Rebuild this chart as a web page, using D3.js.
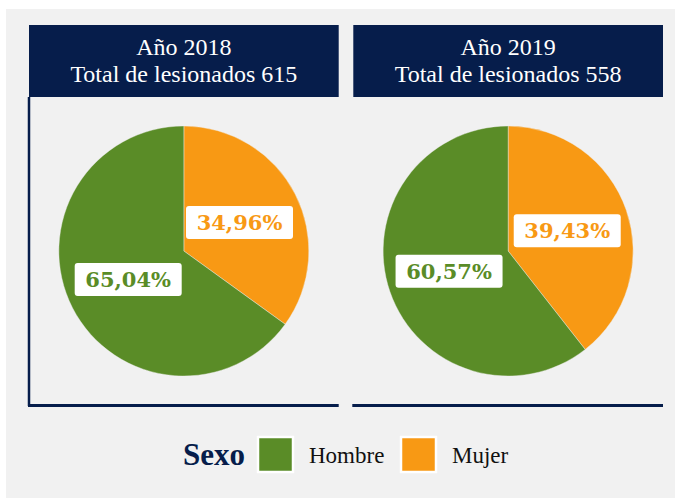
<!DOCTYPE html>
<html>
<head>
<meta charset="utf-8">
<script src="https://cdn.jsdelivr.net/npm/d3@7"></script>
<style>
  body { margin: 0; background: #fff; }
</style>
</head>
<body>
<svg id="chart" width="675" height="499"></svg>
<script>
var years = ['2018', '2019'];
var totals = [615, 558];
var categories = ['Hombre', 'Mujer'];
var hombre = [65.04, 60.57];
var mujer = [34.96, 39.43];

var colors = d3.scaleOrdinal()
  .domain(categories)
  .range(['#5a8c27', '#f89914']);

var navy = '#061d4b';

var es = d3.formatLocale({ decimal: ',', thousands: '.', grouping: [3], currency: ['', ' €'] });
var pct = es.format('.2f');

var svg = d3.select('#chart');

svg.append('rect')
  .attr('x', 6)
  .attr('y', 9)
  .attr('width', 669)
  .attr('height', 489)
  .attr('fill', '#f1f1f1');

var panelX = d3.scaleBand()
  .domain(years)
  .range([29, 663])
  .paddingInner(0.045);

var pie = d3.pie()
  .sort(null)
  .value(function(d) { return d.value; });

var radius = 125;
var arc = d3.arc().innerRadius(0).outerRadius(radius);

years.forEach(function(year, i) {
  var x0 = panelX(year);
  var w = panelX.bandwidth();
  var g = svg.append('g').attr('class', 'panel');

  // title box
  g.append('rect')
    .attr('x', x0)
    .attr('y', 25)
    .attr('width', w)
    .attr('height', 72)
    .attr('fill', navy);

  var title = g.append('text')
    .attr('text-anchor', 'middle')
    .attr('fill', '#fff')
    .style('font-family', '"Liberation Serif", serif')
    .style('font-size', '24px');
  title.append('tspan').attr('x', x0 + w / 2).attr('y', 55).text('Año ' + year);
  title.append('tspan').attr('x', x0 + w / 2).attr('y', 82).text('Total de lesionados ' + totals[i]);

  // frame lines
  if (i === 0) {
    g.append('line')
      .attr('x1', x0).attr('x2', x0)
      .attr('y1', 97).attr('y2', 406)
      .attr('stroke', navy)
      .attr('stroke-width', 2.5);
  }
  g.append('line')
    .attr('x1', x0 - 1).attr('x2', x0 + w)
    .attr('y1', 405.5).attr('y2', 405.5)
    .attr('stroke', navy)
    .attr('stroke-width', 3);

  // pie: Mujer first so it starts at 12 o'clock going clockwise
  var data = [
    { key: 'Mujer', value: mujer[i] },
    { key: 'Hombre', value: hombre[i] }
  ];
  var cx = x0 + w / 2;
  var pg = g.append('g').attr('transform', 'translate(' + cx + ',251)');

  var slices = pie(data);

  pg.selectAll('path')
    .data(slices)
    .enter()
    .append('path')
      .attr('d', arc)
      .attr('fill', function(d) { return colors(d.data.key); })
      .attr('stroke', '#f1f1f1')
      .attr('stroke-width', 0.4);

  var labels = pg.selectAll('g.lbl')
    .data(slices)
    .enter()
    .append('g')
      .attr('class', 'lbl')
      .attr('transform', function(d) {
        var c = arc.centroid(d);
        return 'translate(' + c[0] + ',' + c[1] + ')';
      });

  labels.append('rect')
    .attr('x', -53.5)
    .attr('y', -16.5)
    .attr('width', 107)
    .attr('height', 33)
    .attr('rx', 3)
    .attr('fill', '#fff');

  labels.append('text')
    .attr('text-anchor', 'middle')
    .attr('dy', 7.5)
    .attr('fill', function(d) { return colors(d.data.key); })
    .style('font-family', '"DejaVu Serif", serif')
    .style('font-weight', 'bold')
    .style('font-size', '21px')
    .text(function(d) { return pct(d.data.value) + '%'; });
});

// legend
var legend = svg.append('g').attr('class', 'legend');

legend.append('text')
  .attr('x', 183)
  .attr('y', 465)
  .attr('fill', navy)
  .style('font-family', '"Liberation Serif", serif')
  .style('font-weight', 'bold')
  .style('font-size', '31px')
  .text('Sexo');

var legendX = d3.scaleOrdinal()
  .domain(categories)
  .range([258, 401]);

var items = legend.selectAll('g.item')
  .data(categories)
  .enter()
  .append('g')
    .attr('class', 'item')
    .attr('transform', function(d) { return 'translate(' + legendX(d) + ',437)'; });

items.append('rect')
  .attr('width', 35)
  .attr('height', 35)
  .attr('fill', function(d) { return colors(d); })
  .attr('stroke', '#fff')
  .attr('stroke-width', 2.5);

items.append('text')
  .attr('x', 51)
  .attr('y', 26)
  .attr('fill', '#111')
  .style('font-family', '"Liberation Serif", serif')
  .style('font-size', '23px')
  .text(function(d) { return d; });
</script>
</body>
</html>
